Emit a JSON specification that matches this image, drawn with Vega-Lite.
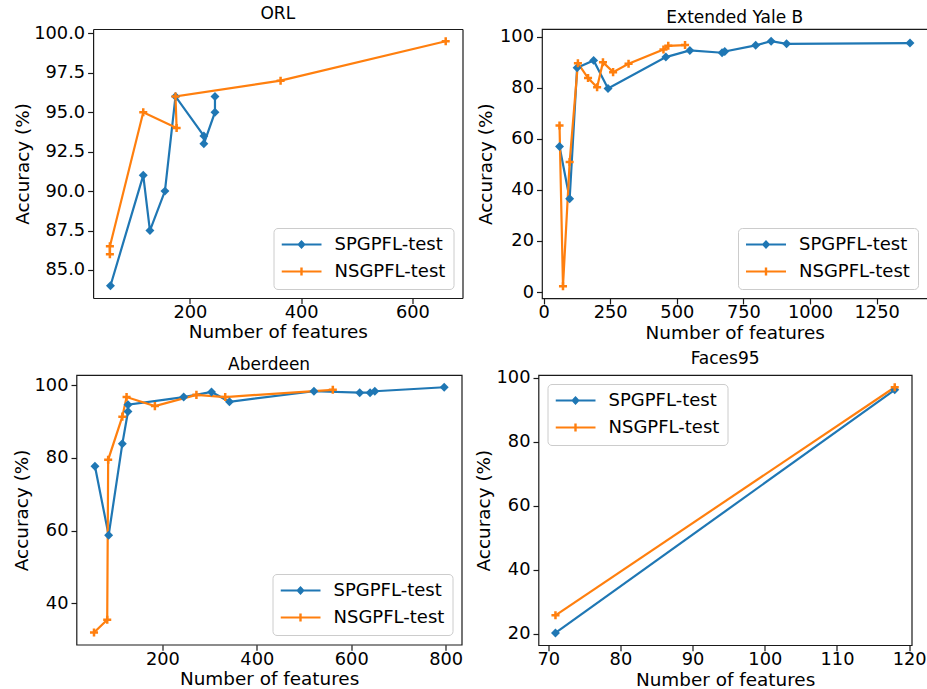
{
  "$schema": "https://vega.github.io/schema/vega-lite/v6.json",
  "background": "white",
  "padding": {"left": 11.5, "top": 5, "right": 0, "bottom": 0},
  "datasets": {
    "orl": [
      {"i": 0, "series": "SPGPFL-test", "features": 57, "acc": 84},
      {"i": 1, "series": "SPGPFL-test", "features": 116, "acc": 91},
      {"i": 2, "series": "SPGPFL-test", "features": 128, "acc": 87.5},
      {"i": 3, "series": "SPGPFL-test", "features": 155, "acc": 90},
      {"i": 4, "series": "SPGPFL-test", "features": 174, "acc": 96},
      {"i": 5, "series": "SPGPFL-test", "features": 225, "acc": 93.5},
      {"i": 6, "series": "SPGPFL-test", "features": 225, "acc": 93},
      {"i": 7, "series": "SPGPFL-test", "features": 245, "acc": 95},
      {"i": 8, "series": "SPGPFL-test", "features": 245, "acc": 96},
      {"i": 0, "series": "NSGPFL-test", "features": 56, "acc": 86},
      {"i": 1, "series": "NSGPFL-test", "features": 56, "acc": 86.5},
      {"i": 2, "series": "NSGPFL-test", "features": 116, "acc": 95},
      {"i": 3, "series": "NSGPFL-test", "features": 176, "acc": 94},
      {"i": 4, "series": "NSGPFL-test", "features": 174, "acc": 96},
      {"i": 5, "series": "NSGPFL-test", "features": 363, "acc": 97},
      {"i": 6, "series": "NSGPFL-test", "features": 660, "acc": 99.5}
    ],
    "yale": [
      {"i": 0, "series": "SPGPFL-test", "features": 60, "acc": 57},
      {"i": 1, "series": "SPGPFL-test", "features": 98, "acc": 36.5},
      {"i": 2, "series": "SPGPFL-test", "features": 126, "acc": 87.8},
      {"i": 3, "series": "SPGPFL-test", "features": 188, "acc": 90.7},
      {"i": 4, "series": "SPGPFL-test", "features": 242, "acc": 79.7},
      {"i": 5, "series": "SPGPFL-test", "features": 459, "acc": 92},
      {"i": 6, "series": "SPGPFL-test", "features": 549, "acc": 94.6},
      {"i": 7, "series": "SPGPFL-test", "features": 670, "acc": 93.7},
      {"i": 8, "series": "SPGPFL-test", "features": 680, "acc": 94.2},
      {"i": 9, "series": "SPGPFL-test", "features": 796, "acc": 96.6},
      {"i": 10, "series": "SPGPFL-test", "features": 854, "acc": 98.2},
      {"i": 11, "series": "SPGPFL-test", "features": 912, "acc": 97.2},
      {"i": 12, "series": "SPGPFL-test", "features": 1375, "acc": 97.5},
      {"i": 0, "series": "NSGPFL-test", "features": 60, "acc": 65.2},
      {"i": 1, "series": "NSGPFL-test", "features": 73, "acc": 2.3},
      {"i": 2, "series": "NSGPFL-test", "features": 98, "acc": 50.9},
      {"i": 3, "series": "NSGPFL-test", "features": 129, "acc": 89.6},
      {"i": 4, "series": "NSGPFL-test", "features": 167, "acc": 83.8},
      {"i": 5, "series": "NSGPFL-test", "features": 201, "acc": 80.2},
      {"i": 6, "series": "NSGPFL-test", "features": 223, "acc": 90},
      {"i": 7, "series": "NSGPFL-test", "features": 261, "acc": 86.1},
      {"i": 8, "series": "NSGPFL-test", "features": 319, "acc": 89.4},
      {"i": 9, "series": "NSGPFL-test", "features": 450, "acc": 95},
      {"i": 10, "series": "NSGPFL-test", "features": 468, "acc": 96.4},
      {"i": 11, "series": "NSGPFL-test", "features": 531, "acc": 96.7}
    ],
    "aber": [
      {"i": 0, "series": "SPGPFL-test", "features": 57, "acc": 77.7},
      {"i": 1, "series": "SPGPFL-test", "features": 86, "acc": 58.7},
      {"i": 2, "series": "SPGPFL-test", "features": 115, "acc": 83.9},
      {"i": 3, "series": "SPGPFL-test", "features": 127, "acc": 92.8},
      {"i": 4, "series": "SPGPFL-test", "features": 127, "acc": 94.7},
      {"i": 5, "series": "SPGPFL-test", "features": 245, "acc": 96.8},
      {"i": 6, "series": "SPGPFL-test", "features": 304, "acc": 98.2},
      {"i": 7, "series": "SPGPFL-test", "features": 342, "acc": 95.5},
      {"i": 8, "series": "SPGPFL-test", "features": 521, "acc": 98.4},
      {"i": 9, "series": "SPGPFL-test", "features": 618, "acc": 98.0},
      {"i": 10, "series": "SPGPFL-test", "features": 640, "acc": 98.0},
      {"i": 11, "series": "SPGPFL-test", "features": 650, "acc": 98.4},
      {"i": 12, "series": "SPGPFL-test", "features": 797, "acc": 99.5},
      {"i": 0, "series": "NSGPFL-test", "features": 55, "acc": 31.9},
      {"i": 1, "series": "NSGPFL-test", "features": 83, "acc": 35.4},
      {"i": 2, "series": "NSGPFL-test", "features": 85, "acc": 79.5},
      {"i": 3, "series": "NSGPFL-test", "features": 115, "acc": 91.4},
      {"i": 4, "series": "NSGPFL-test", "features": 124, "acc": 96.8},
      {"i": 5, "series": "NSGPFL-test", "features": 184, "acc": 94.3},
      {"i": 6, "series": "NSGPFL-test", "features": 272, "acc": 97.4},
      {"i": 7, "series": "NSGPFL-test", "features": 333, "acc": 96.8},
      {"i": 8, "series": "NSGPFL-test", "features": 561, "acc": 98.8}
    ],
    "faces": [
      {"i": 0, "series": "SPGPFL-test", "features": 71, "acc": 20.2},
      {"i": 1, "series": "SPGPFL-test", "features": 118, "acc": 96.2},
      {"i": 0, "series": "NSGPFL-test", "features": 71, "acc": 25.7},
      {"i": 1, "series": "NSGPFL-test", "features": 118, "acc": 97}
    ]
  },
  "config": {
    "font": "DejaVu Sans",
    "view": {"stroke": "#1a1a1a", "strokeWidth": 1.2},
    "axis": {
      "grid": false, "domain": false, "tickSize": 5.5, "tickWidth": 1.2, "tickColor": "#1a1a1a",
      "domainColor": "#1a1a1a", "domainWidth": 1.2,
      "labelFont": "DejaVu Sans", "labelFontSize": 17.8, "labelColor": "#000", "labelPadding": 3,
      "titleFont": "DejaVu Sans", "titleFontSize": 18.4, "titleFontWeight": "normal", "titleColor": "#000",
      "titlePadding": 5, "labelFlush": false, "labelOverlap": false
    },
    "axisX": {"labelPadding": 0, "titlePadding": 1.5},
    "title": {"font": "DejaVu Sans", "fontSize": 17, "fontWeight": "normal", "color": "#000", "baseline": "alphabetic", "offset": 1, "anchor": "middle"},
    "legend": {
      "title": null, "padding": 8, "fillColor": "rgba(255,255,255,0.8)", "strokeColor": "#cccccc", "cornerRadius": 4,
      "labelFont": "DejaVu Sans", "labelFontSize": 18, "labelColor": "#000", "symbolSize": 1600, "clipHeight": 17,
      "rowPadding": 8, "labelOffset": 13, "symbolStrokeWidth": 0
    }
  },
  "columns": 1,
  "align": "none",
  "spacing": 6,
  "resolve": {"scale": {"color": "independent"}, "legend": {"color": "independent"}},
  "concat": [
    {
      "spacing": 12.5,
      "resolve": {"scale": {"color": "independent"}, "legend": {"color": "independent"}},
      "hconcat": [
        {
          "width": 386, "height": 269,
          "title": {"text": "ORL", "dx": 8.3},
          "view": {"stroke": null},
          "data": {"name": "orl"},
          "resolve": {"axis": {"x": "independent", "y": "independent"}},
          "encoding": {
            "x": {"field": "features", "type": "quantitative", "scale": {"domain": [25.8, 690.2], "range": [16.6, 386], "nice": false, "zero": false}, "axis": {"title": "Number of features", "values": [200, 400, 600], "domain": true}},
            "y": {"field": "acc", "type": "quantitative", "scale": {"domain": [83.225, 100.275], "nice": false, "zero": false}, "axis": {"title": "Accuracy (%)", "values": [85, 87.5, 90, 92.5, 95, 97.5, 100], "format": ".1f", "minExtent": 56, "maxExtent": 56, "offset": -16.6, "domain": true}},
            "color": {"field": "series", "type": "nominal", "scale": {"domain": ["SPGPFL-test", "NSGPFL-test"], "range": ["#1f77b4", "#ff7f0e"]},
              "legend": {"orient": "bottom-right", "offset": 9.5,
                "encode": {"symbols": {"update": {
                  "shape": {"signal": "datum.value === 'SPGPFL-test' ? 'M-1,-0.055H-0.165L0,-0.22L0.165,-0.055H1V0.055H0.165L0,0.22L-0.165,0.055H-1Z' : 'M-1,-0.055H-0.06V-0.2H0.06V-0.055H1V0.055H0.06V0.2H-0.06V0.055H-1Z'"},
                  "fill": {"signal": "datum.value === 'SPGPFL-test' ? '#1f77b4' : '#ff7f0e'"},
                  "stroke": {"value": "transparent"}, "strokeWidth": {"value": 0}, "opacity": {"value": 1}}}}}}
          },
          "layer": [
            {"mark": {"type": "line", "strokeWidth": 2.2}, "encoding": {"order": {"field": "i", "type": "quantitative"}}},
            {"transform": [{"filter": "datum.series === 'SPGPFL-test'"}],
             "mark": {"type": "point", "shape": "diamond", "filled": true, "opacity": 1, "size": 80, "strokeWidth": 0},
             "encoding": {"x": {"field": "features", "type": "quantitative", "axis": null}, "y": {"field": "acc", "type": "quantitative", "axis": null}}},
            {"transform": [{"filter": "datum.series === 'NSGPFL-test'"}],
             "mark": {"type": "point", "shape": "M-0.28,-0.9H0.28V-0.28H0.9V0.28H0.28V0.9H-0.28V0.28H-0.9V-0.28H-0.28Z", "filled": true, "opacity": 1, "size": 80, "strokeWidth": 0},
             "encoding": {"x": {"field": "features", "type": "quantitative", "axis": null}, "y": {"field": "acc", "type": "quantitative", "axis": null}}},
            {"mark": {"type": "line", "opacity": 0},
             "encoding": {
               "x": {"field": "features", "type": "quantitative", "axis": {"orient": "top", "labels": false, "ticks": false, "domain": true, "title": null}},
               "y": {"field": "acc", "type": "quantitative", "axis": {"orient": "right", "labels": false, "ticks": false, "domain": true, "title": null}}}}
          ]
        },
        {
          "width": 385.5, "height": 269.4,
          "title": "Extended Yale B",
          "data": {"name": "yale"},
          "encoding": {
            "x": {"field": "features", "type": "quantitative", "scale": {"domain": [-5.75, 1440.75], "nice": false, "zero": false}, "axis": {"title": "Number of features", "values": [0, 250, 500, 750, 1000, 1250], "format": "d"}},
            "y": {"field": "acc", "type": "quantitative", "scale": {"domain": [-2.495, 102.995], "nice": false, "zero": false}, "axis": {"title": "Accuracy (%)", "values": [0, 20, 40, 60, 80, 100], "minExtent": 42, "maxExtent": 42}},
            "color": {"field": "series", "type": "nominal", "scale": {"domain": ["SPGPFL-test", "NSGPFL-test"], "range": ["#1f77b4", "#ff7f0e"]},
              "legend": {"orient": "bottom-right", "offset": 9.5,
                "encode": {"symbols": {"update": {
                  "shape": {"signal": "datum.value === 'SPGPFL-test' ? 'M-1,-0.055H-0.165L0,-0.22L0.165,-0.055H1V0.055H0.165L0,0.22L-0.165,0.055H-1Z' : 'M-1,-0.055H-0.06V-0.2H0.06V-0.055H1V0.055H0.06V0.2H-0.06V0.055H-1Z'"},
                  "fill": {"signal": "datum.value === 'SPGPFL-test' ? '#1f77b4' : '#ff7f0e'"},
                  "stroke": {"value": "transparent"}, "strokeWidth": {"value": 0}, "opacity": {"value": 1}}}}}}
          },
          "layer": [
            {"mark": {"type": "line", "strokeWidth": 2.2}, "encoding": {"order": {"field": "i", "type": "quantitative"}}},
            {"transform": [{"filter": "datum.series === 'SPGPFL-test'"}],
             "mark": {"type": "point", "shape": "diamond", "filled": true, "opacity": 1, "size": 80, "strokeWidth": 0}},
            {"transform": [{"filter": "datum.series === 'NSGPFL-test'"}],
             "mark": {"type": "point", "shape": "M-0.28,-0.9H0.28V-0.28H0.9V0.28H0.28V0.9H-0.28V0.28H-0.9V-0.28H-0.28Z", "filled": true, "opacity": 1, "size": 80, "strokeWidth": 0}}
          ]
        }
      ]
    },
    {
      "spacing": 10,
      "resolve": {"scale": {"color": "independent"}, "legend": {"color": "independent"}},
      "hconcat": [
        {
          "width": 385.2, "height": 269.7,
          "title": "Aberdeen",
          "data": {"name": "aber"},
          "encoding": {
            "x": {"field": "features", "type": "quantitative", "scale": {"domain": [17.9, 834.1], "nice": false, "zero": false}, "axis": {"title": "Number of features", "values": [200, 400, 600, 800]}},
            "y": {"field": "acc", "type": "quantitative", "scale": {"domain": [28.52, 102.88], "nice": false, "zero": false}, "axis": {"title": "Accuracy (%)", "values": [40, 60, 80, 100], "minExtent": 40, "maxExtent": 40}},
            "color": {"field": "series", "type": "nominal", "scale": {"domain": ["SPGPFL-test", "NSGPFL-test"], "range": ["#1f77b4", "#ff7f0e"]},
              "legend": {"orient": "bottom-right", "offset": 9.5,
                "encode": {"symbols": {"update": {
                  "shape": {"signal": "datum.value === 'SPGPFL-test' ? 'M-1,-0.055H-0.165L0,-0.22L0.165,-0.055H1V0.055H0.165L0,0.22L-0.165,0.055H-1Z' : 'M-1,-0.055H-0.06V-0.2H0.06V-0.055H1V0.055H0.06V0.2H-0.06V0.055H-1Z'"},
                  "fill": {"signal": "datum.value === 'SPGPFL-test' ? '#1f77b4' : '#ff7f0e'"},
                  "stroke": {"value": "transparent"}, "strokeWidth": {"value": 0}, "opacity": {"value": 1}}}}}}
          },
          "layer": [
            {"mark": {"type": "line", "strokeWidth": 2.2}, "encoding": {"order": {"field": "i", "type": "quantitative"}}},
            {"transform": [{"filter": "datum.series === 'SPGPFL-test'"}],
             "mark": {"type": "point", "shape": "diamond", "filled": true, "opacity": 1, "size": 80, "strokeWidth": 0}},
            {"transform": [{"filter": "datum.series === 'NSGPFL-test'"}],
             "mark": {"type": "point", "shape": "M-0.28,-0.9H0.28V-0.28H0.9V0.28H0.28V0.9H-0.28V0.28H-0.9V-0.28H-0.28Z", "filled": true, "opacity": 1, "size": 80, "strokeWidth": 0}}
          ]
        },
        {
          "width": 373.2, "height": 270.2,
          "title": "Faces95",
          "data": {"name": "faces"},
          "encoding": {
            "x": {"field": "features", "type": "quantitative", "scale": {"domain": [68.65, 120.35], "nice": false, "zero": false}, "axis": {"title": "Number of features", "values": [70, 80, 90, 100, 110, 120]}},
            "y": {"field": "acc", "type": "quantitative", "scale": {"domain": [16.36, 100.84], "nice": false, "zero": false}, "axis": {"title": "Accuracy (%)", "values": [20, 40, 60, 80, 100], "minExtent": 40, "maxExtent": 40}},
            "color": {"field": "series", "type": "nominal", "scale": {"domain": ["SPGPFL-test", "NSGPFL-test"], "range": ["#1f77b4", "#ff7f0e"]},
              "legend": {"orient": "top-left", "offset": 9,
                "encode": {"symbols": {"update": {
                  "shape": {"signal": "datum.value === 'SPGPFL-test' ? 'M-1,-0.055H-0.165L0,-0.22L0.165,-0.055H1V0.055H0.165L0,0.22L-0.165,0.055H-1Z' : 'M-1,-0.055H-0.06V-0.2H0.06V-0.055H1V0.055H0.06V0.2H-0.06V0.055H-1Z'"},
                  "fill": {"signal": "datum.value === 'SPGPFL-test' ? '#1f77b4' : '#ff7f0e'"},
                  "stroke": {"value": "transparent"}, "strokeWidth": {"value": 0}, "opacity": {"value": 1}}}}}}
          },
          "layer": [
            {"mark": {"type": "line", "strokeWidth": 2.2}, "encoding": {"order": {"field": "i", "type": "quantitative"}}},
            {"transform": [{"filter": "datum.series === 'SPGPFL-test'"}],
             "mark": {"type": "point", "shape": "diamond", "filled": true, "opacity": 1, "size": 80, "strokeWidth": 0}},
            {"transform": [{"filter": "datum.series === 'NSGPFL-test'"}],
             "mark": {"type": "point", "shape": "M-0.28,-0.9H0.28V-0.28H0.9V0.28H0.28V0.9H-0.28V0.28H-0.9V-0.28H-0.28Z", "filled": true, "opacity": 1, "size": 80, "strokeWidth": 0}}
          ]
        }
      ]
    }
  ]
}
